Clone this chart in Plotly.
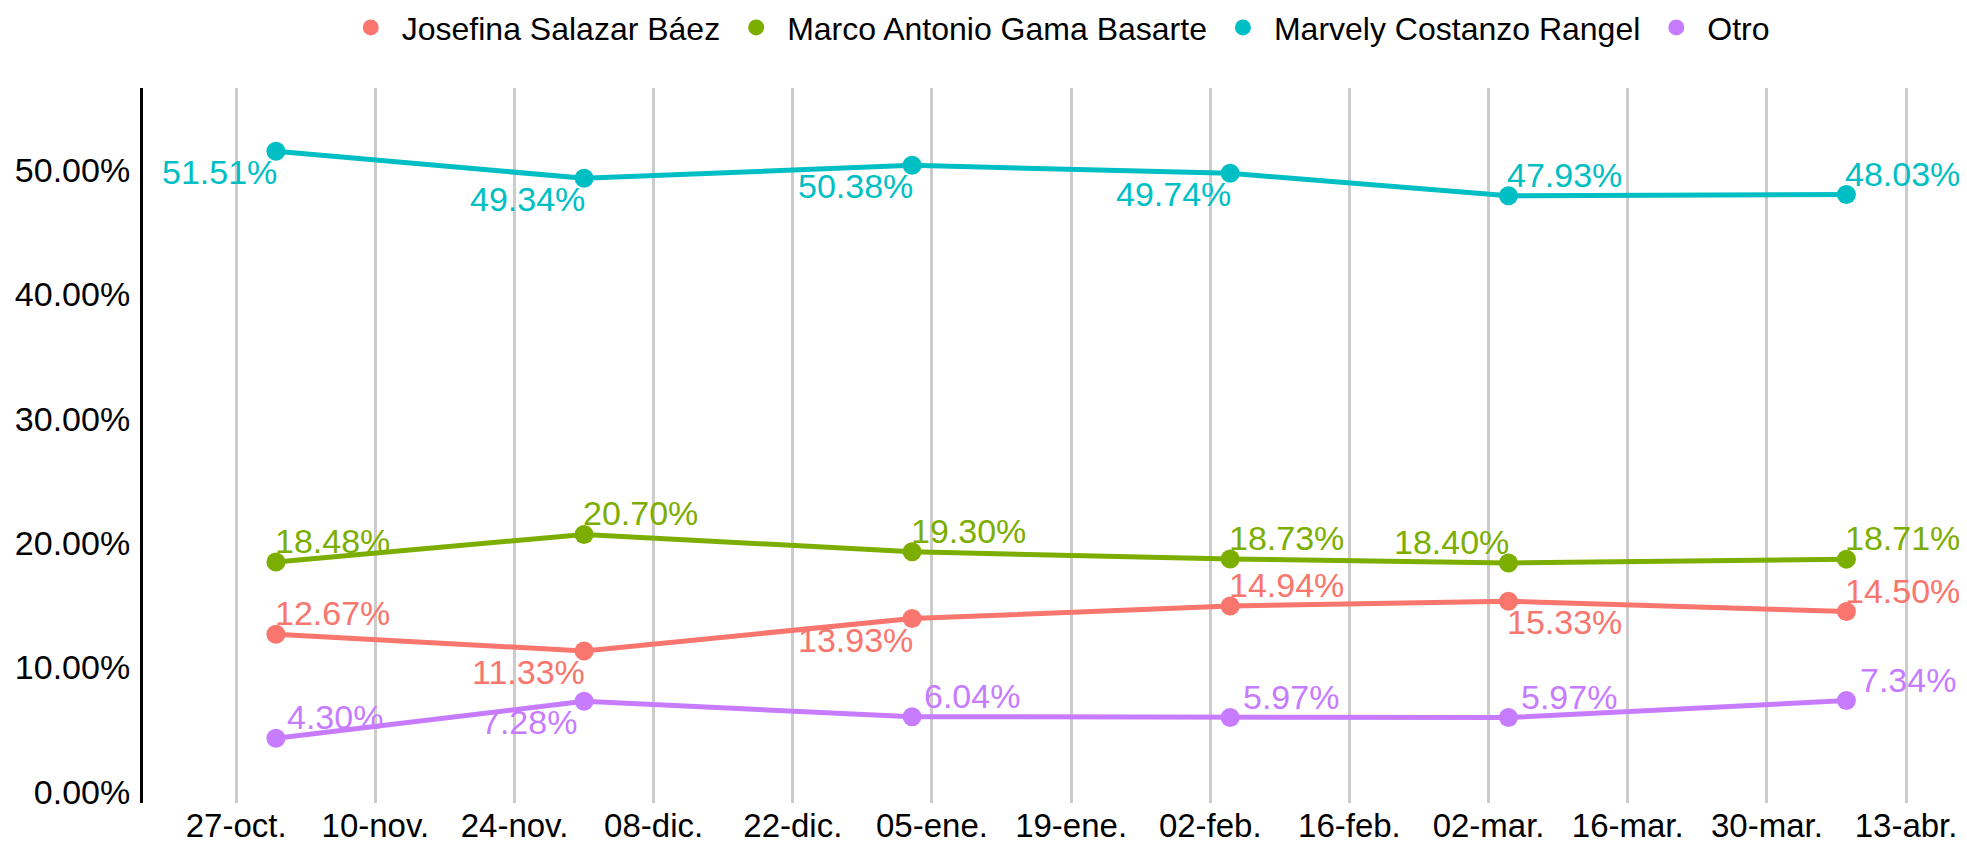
import plotly.graph_objects as go

# ---- data ----
dates = ["2024-10-31", "2024-12-01", "2025-01-03", "2025-02-04", "2025-03-04", "2025-04-07"]
series_names = ["Josefina Salazar Báez", "Marco Antonio Gama Basarte", "Marvely Costanzo Rangel", "Otro"]
josefina = [12.67, 11.33, 13.93, 14.94, 15.33, 14.50]
marco = [18.48, 20.70, 19.30, 18.73, 18.40, 18.71]
marvely = [51.51, 49.34, 50.38, 49.74, 47.93, 48.03]
otro = [4.30, 7.28, 6.04, 5.97, 5.97, 7.34]

x_tick_vals = ["2024-10-27", "2024-11-10", "2024-11-24", "2024-12-08", "2024-12-22",
               "2025-01-05", "2025-01-19", "2025-02-02", "2025-02-16", "2025-03-02",
               "2025-03-16", "2025-03-30", "2025-04-13"]
x_tick_text = ["27-oct.", "10-nov.", "24-nov.", "08-dic.", "22-dic.", "05-ene.", "19-ene.",
               "02-feb.", "16-feb.", "02-mar.", "16-mar.", "30-mar.", "13-abr."]
y_tick_vals = [0, 10, 20, 30, 40, 50]

# ---- styles ----
colors = ["#F8766D", "#7CAE00", "#00BFC4", "#C77CFF"]
# label placement per point
label_side = [
    ["R", "L", "L", "R", "R", "R"],
    ["R", "R", "R", "R", "L", "R"],
    ["L", "L", "L", "L", "R", "R"],
    ["R", "L", "R", "R", "R", "R"],
]
label_vert = [
    ["up", "down", "down", "up", "down", "up"],
    ["up", "up", "up", "up", "up", "up"],
    ["down", "down", "down", "down", "up", "up"],
    ["up", "down", "up", "up", "up", "up"],
]
label_dx = [
    [0, 0, 0, 0, 0, 0],
    [0, 0, 0, 0, 0, 0],
    [0, 0, 0, 0, 0, 0],
    [12, -8, 13, 14, 14, 15],
]
FONT = "Liberation Sans, Arial, sans-serif"
FS_LABEL = 34
FS_TICK = 34
FS_XTICK = 33
FS_LEG = 32
DY = 21

fig = go.Figure()
all_values = [josefina, marco, marvely, otro]
annotations = []
for i, (name, vals, col) in enumerate(zip(series_names, all_values, colors)):
    fig.add_trace(go.Scatter(
        x=dates, y=vals, mode="lines+markers",
        line=dict(color=col, width=5),
        marker=dict(color=col, size=19),
        name=name, showlegend=False, cliponaxis=False,
    ))
    fig.add_trace(go.Scatter(
        x=[None], y=[None], mode="markers",
        marker=dict(color=col, size=18),
        name=name, showlegend=True,
    ))
    for j, (d, v) in enumerate(zip(dates, vals)):
        annotations.append(dict(
            x=d, y=v, xref="x", yref="y", text=f"{v:.2f}%", showarrow=False,
            xanchor="left" if label_side[i][j] == "R" else "right",
            yanchor="middle",
            xshift=label_dx[i][j] - (2 if label_side[i][j] == "R" else -2),
            yshift=DY if label_vert[i][j] == "up" else -DY,
            font=dict(color=col, size=FS_LABEL, family=FONT),
            borderpad=0,
        ))

fig.update_layout(
    width=1951, height=837,
    margin=dict(l=135, r=2, t=80, b=42, autoexpand=False),
    paper_bgcolor="white", plot_bgcolor="white",
    font=dict(family=FONT, size=FS_TICK, color="black"),
    legend=dict(orientation="h", x=0.504, xanchor="center", y=1.0845, yanchor="middle",
                font=dict(size=FS_LEG), itemwidth=52, tracegroupgap=0),
    xaxis=dict(type="date", range=["2024-10-17 15:00", "2025-04-18 03:00"],
               tickvals=x_tick_vals, ticktext=x_tick_text,
               showgrid=True, gridcolor="#CCCCCC", gridwidth=2.5,
               showline=False, zeroline=False, ticks="", automargin=False,
               ticklabelstandoff=0, tickfont=dict(size=FS_XTICK)),
    yaxis=dict(range=[-0.9, 56.6], tickvals=y_tick_vals,
               ticktext=[f"{v:.2f}%" for v in y_tick_vals],
               showgrid=False, showline=True, linecolor="black", linewidth=3,
               zeroline=False, ticks="", ticklabelstandoff=3, automargin=False,
               tickfont=dict(size=FS_TICK)),
    annotations=annotations,
)

fig.write_html("out.html")
